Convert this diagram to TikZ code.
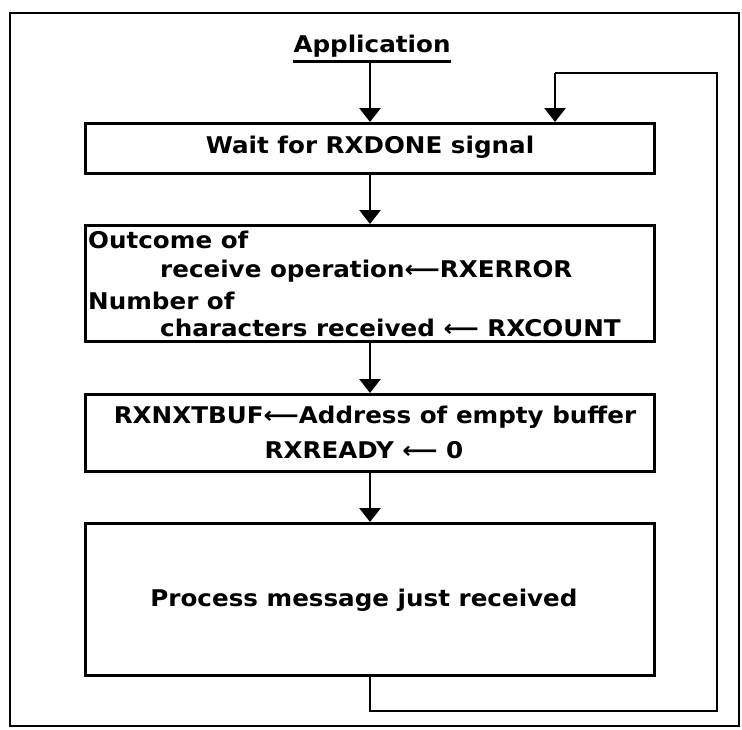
\documentclass[tikz,border=0pt]{standalone}
\usepackage{fontspec}
\setmainfont[FakeStretch=1.07]{DejaVu Sans}
\usetikzlibrary{arrows.meta}
\tikzset{
  box/.style={draw, line width=2.6pt, rectangle, minimum width=569pt, anchor=north west, inner sep=0pt},
  flow/.style={line width=2.8pt, -{Triangle[width=21pt,length=14pt]}},
  loopline/.style={line width=2.8pt},
  txt/.style={font=\fontsize{23}{26}\selectfont\bfseries, inner sep=0pt},
}
\begin{document}
\begin{tikzpicture}[x=1pt,y=-1pt]
\useasboundingbox (0,0) rectangle (742,729);
\draw[line width=2.2pt] (10,13) rectangle (739,726);
\node[txt] (app) at (372,46) {Application};
\draw[line width=2.6pt] ([yshift=-4pt]app.south west) -- ([yshift=-4pt]app.south east);
\node[box, minimum height=50pt] (b1) at (84,122) {};
\node[txt] (t1) at (370,147) {Wait for RXDONE signal};
\node[box, minimum height=116pt] (b2) at (84,224) {};
\node[txt, anchor=west] (t2a) at (88,240) {Outcome of};
\node[txt, anchor=west] (t2b) at (160,271) {receive operation⟵RXERROR};
\node[txt, anchor=west] (t2c) at (88,301) {Number of};
\node[txt, anchor=west] (t2d) at (160,328) {characters received ⟵ RXCOUNT};
\node[box, minimum height=77pt] (b3) at (84,393) {};
\node[txt] (t3a) at (375,417) {RXNXTBUF⟵Address of empty buffer};
\node[txt] (t3b) at (364,450) {RXREADY ⟵ 0};
\node[box, minimum height=152pt] (b4) at (84,522) {};
\node[txt] (t4) at (364,600) {Process message just received};
\coordinate (c1) at (370,711);
\coordinate (c2) at (717,711);
\coordinate (c3) at (717,73);
\coordinate (c4) at (555,73);
\draw[flow] (370,63) -- (b1.north west -| 370,0);
\draw[flow] (b1.south west -| 370,0) -- (b2.north west -| 370,0);
\draw[flow] (b2.south west -| 370,0) -- (b3.north west -| 370,0);
\draw[flow] (b3.south west -| 370,0) -- (b4.north west -| 370,0);
\draw[loopline] (b4.south west -| c1) -- (c1) -- (c2) -- (c3) -- (c4);
\draw[flow] (c4) -- (c4 |- b1.north);
\end{tikzpicture}
\end{document}
